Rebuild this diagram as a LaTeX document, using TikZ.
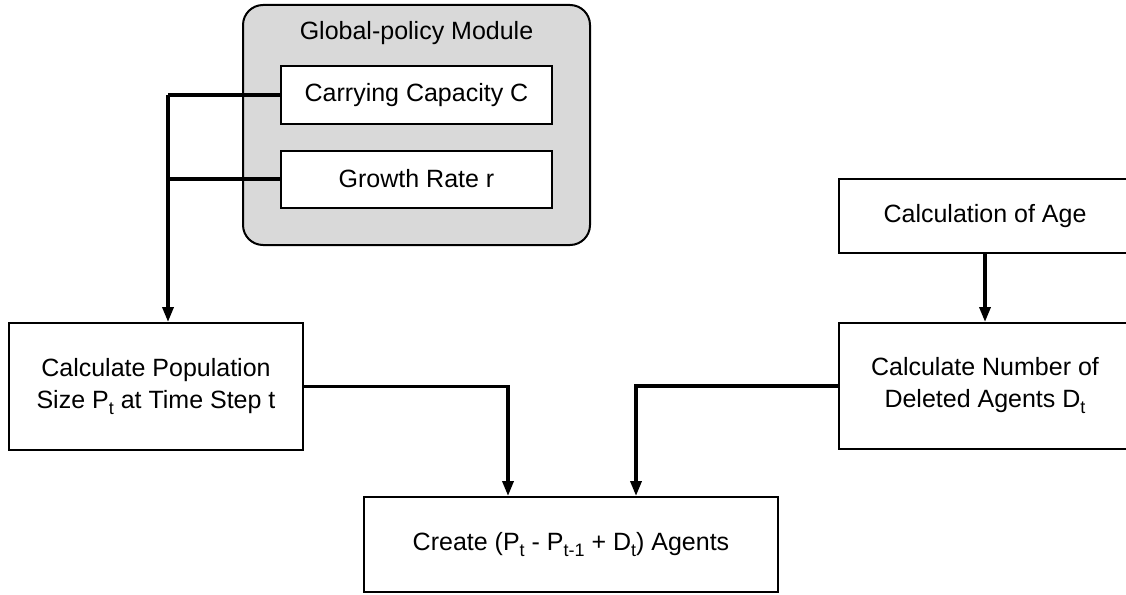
\documentclass[tikz,border=0pt]{standalone}
\usepackage{fontspec}
\setmainfont{Liberation Sans}
\usetikzlibrary{arrows.meta}
\newcommand\lowidx[1]{\raisebox{-6pt}{\fontsize{18}{18}\selectfont #1}}
\begin{document}
\begin{tikzpicture}[x=1pt,y=-1pt,
		box/.style={draw,line width=2pt,fill=white,inner sep=0pt,align=center,
			font=\fontsize{25}{32}\selectfont},
		conn/.style={line width=3.4pt},
		tip/.style={conn,-{Triangle[length=15pt,width=11pt]}}]
				\useasboundingbox (0,0) rectangle (1126,594);
				\coordinate (bus) at (168,95);
				
				\node[box,fill=gray!30,rounded corners=20pt,minimum width=347pt,minimum height=240pt] (module) at (416.5,125) {};
				\node[font=\fontsize{25}{32}\selectfont] (title) at (416.5,33) {Global-policy Module};
				\node[box,minimum width=271pt,minimum height=58pt] (cap) at (416.5,95) {Carrying Capacity C};
				\node[box,minimum width=271pt,minimum height=57pt] (rate) at (416.5,179) {Growth Rate r};
				\node[box,minimum width=294pt,minimum height=127pt] (pop) at (156,386.5) {Calculate Population\\Size P\lowidx{t} at Time Step t};
				\node[box,minimum width=292pt,minimum height=74pt] (age) at (985,216) {Calculation of Age};
				\node[box,minimum width=292pt,minimum height=126pt] (del) at (985,386) {Calculate Number of\\Deleted Agents D\lowidx{t}};
				\node[box,minimum width=414pt,minimum height=95pt] (create) at (571,544.5) {Create (P\lowidx{t} - P\lowidx{t-1} + D\lowidx{t}) Agents};
				
				\draw[conn] (cap.west) -- (bus);
				\draw[conn] (rate.west) -- (rate.west -| bus);
				\draw[tip] (bus) -- (bus |- pop.north);
				\draw[tip] (age.south) -- (del.north);
				\draw[tip] (pop.east) -| ([xshift=-63pt]create.north);
				\draw[tip] (del.west) -| ([xshift=65pt]create.north);
			\end{tikzpicture}
\end{document}
